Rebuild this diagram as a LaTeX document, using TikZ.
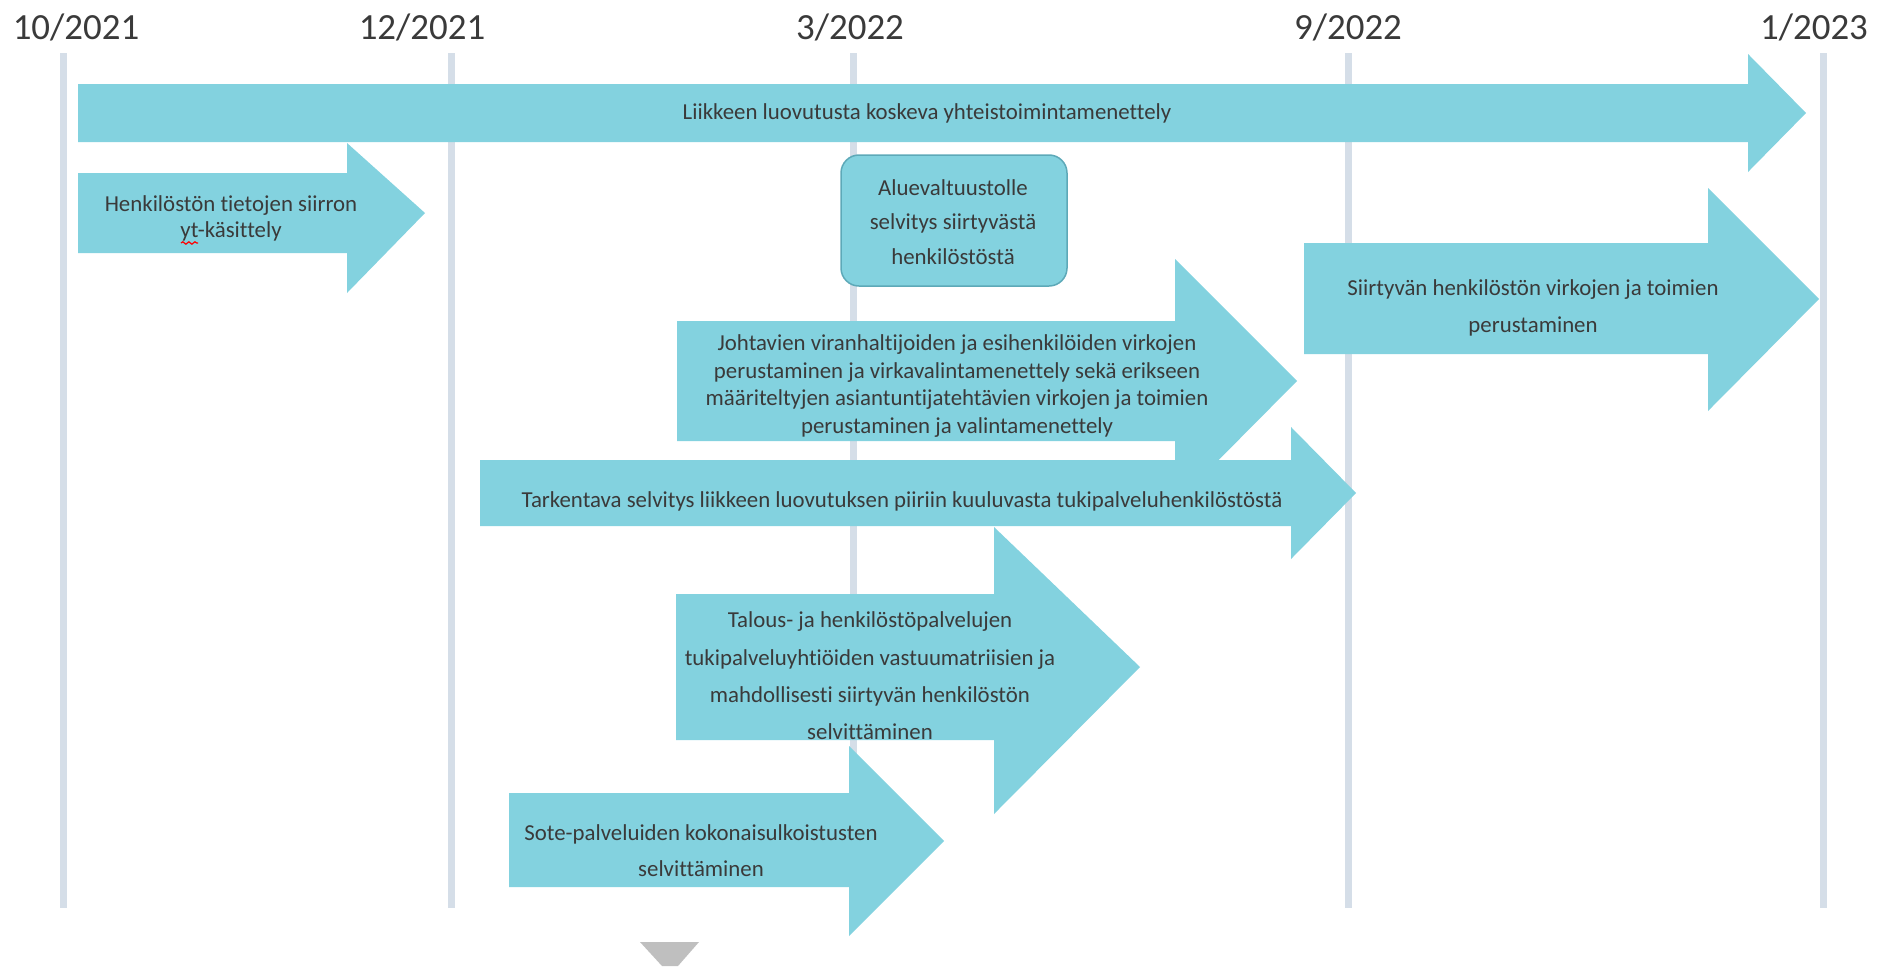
\documentclass[tikz,border=0pt]{standalone}
\usepackage{fontspec}
\setmainfont{Carlito}[Ligatures={NoCommon}]
\usetikzlibrary{decorations.pathmorphing}
\definecolor{barcyan}{HTML}{83D2DF}
\definecolor{barline}{HTML}{5DA9B8}
\definecolor{gridblue}{HTML}{D5DEE8}
\definecolor{txtgray}{HTML}{3A3A3A}
\definecolor{markgray}{HTML}{BFBFBF}
\tikzset{
	period/.style={fill=barcyan},
	lbl/.style={text=txtgray, align=center, inner sep=0pt, font=\fontsize{6.5}{#1}\selectfont},
	datelbl/.style={text=txtgray, inner sep=0pt, font=\fontsize{10.5}{12}\selectfont}
}
\begin{document}
\begin{tikzpicture}[x=0.1mm,y=-0.1mm]
	\useasboundingbox (0,0) rectangle (1890,966);

	\foreach \x in {63,451,853,1348,1823}
	{
		\draw[gridblue, line width=0.7mm] (\x,53) -- (\x,908);
	}
	\node[datelbl] (d1) at (76,27) {10/2021};
	\node[datelbl] (d2) at (422,27) {12/2021};
	\node[datelbl] (d3) at (850,27) {3/2022};
	\node[datelbl] (d4) at (1348,27) {9/2022};
	\node[datelbl] (d5) at (1814,27) {1/2023};

	\foreach \l/\t/\b/\h/\ht/\hb/\p/\m in {78/84/142/1748/54/172/1806/113,
		78/173/253/347/143/293/425/213,
		677/321/441/1175/259/504/1297/381,
		480/460/526/1291/427/559/1356/493,
		676/594/740/994/527/814/1140/667,
		509/793/887/849/746/936/944/841,
		1304/243/354/1708/188/411/1819/299}
	{
		\fill[period] (\l,\t) -- (\h,\t) -- (\h,\ht) -- (\p,\m) -- (\h,\hb) -- (\h,\b) -- (\l,\b) -- cycle;
	}
	\filldraw[period, draw=barline, line width=0.15mm, rounded corners=1.8mm] (841,155) rectangle (1067,286);
	\fill[markgray] (640,942) -- (699,942) -- (678,966) -- (662,966) -- cycle;

	\node[lbl=7.4] (liikkeen) at (927,113) {Liikkeen luovutusta koskeva yhteistoimintamenettely};
	\node[lbl=7.4] (henkilosto) at (231,218) {Henkilöstön tietojen siirron\\yt-käsittely};
	\draw[red, line width=0.12mm, decorate, decoration={snake, amplitude=0.12mm, segment length=0.6mm}] (181,243) -- (198,243);
	\node[lbl=9.8] (alue) at (953,222) {Aluevaltuustolle\\selvitys siirtyvästä\\henkilöstöstä};
	\node[lbl=7.9] (johtavien) at (957,386) {Johtavien viranhaltijoiden ja esihenkilöiden virkojen\\perustaminen ja virkavalintamenettely sekä erikseen\\määriteltyjen asiantuntijatehtävien virkojen ja toimien\\perustaminen ja valintamenettely};
	\node[lbl=7.4] (tarkentava) at (902,501) {Tarkentava selvitys liikkeen luovutuksen piiriin kuuluvasta tukipalveluhenkilöstöstä};
	\node[lbl=10.6] (talous) at (870,676) {Talous- ja henkilöstöpalvelujen\\tukipalveluyhtiöiden vastuumatriisien ja\\mahdollisesti siirtyvän henkilöstön\\selvittäminen};
	\node[lbl=10.2] (sote) at (701,851) {Sote-palveluiden kokonaisulkoistusten\\selvittäminen};
	\node[lbl=10.5] (siirtyvan) at (1533,308) {Siirtyvän henkilöstön virkojen ja toimien\\perustaminen};
\end{tikzpicture}
\end{document}
